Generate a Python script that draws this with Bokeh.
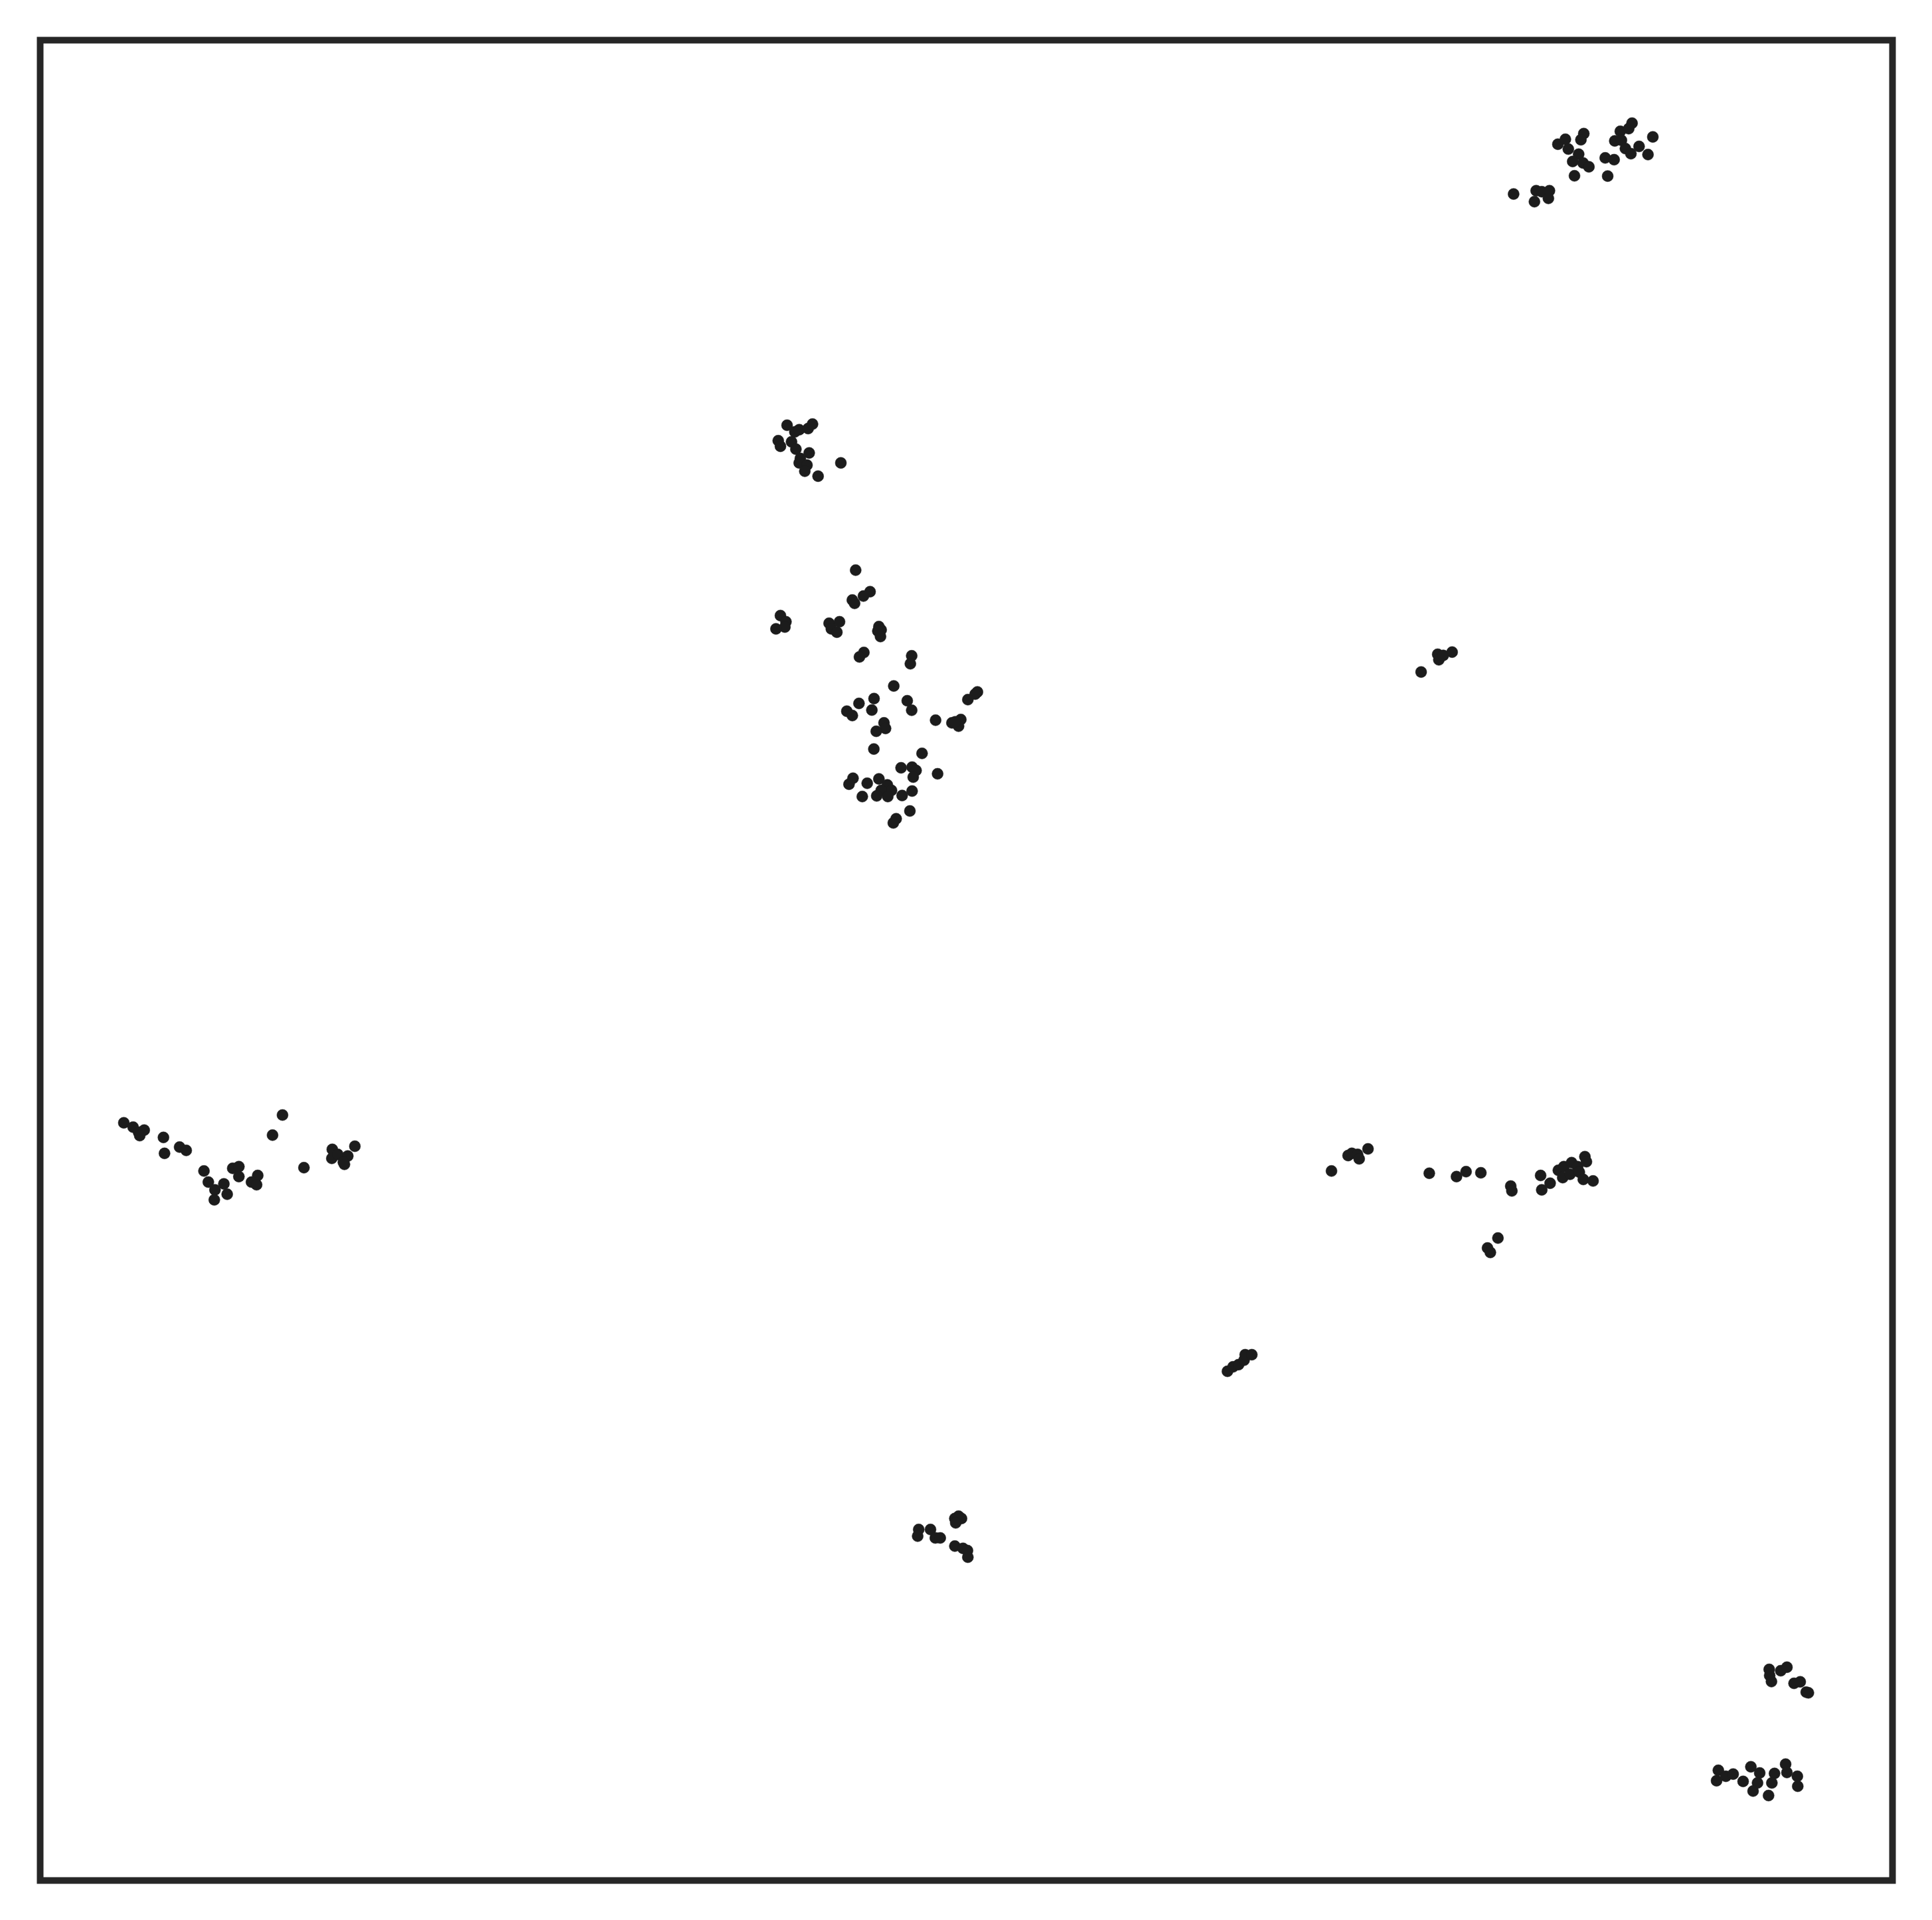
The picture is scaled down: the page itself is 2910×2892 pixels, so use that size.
from bokeh.plotting import figure
from bokeh.models import Range1d, ColumnDataSource
from bokeh.embed import file_html
from bokeh.resources import INLINE

# Embedding coordinates (arbitrary units), grouped by visible cluster
c1_x = [2279.3, 2313.3, 2321.7, 2333.3, 2331.7, 2310.7, 2346, 2357.3, 2361.7, 2385, 2380.7, 2377.3, 2368.3, 2384, 2392.7, 2371, 2417.3, 2430.7, 2421, 2431.7, 2440, 2441.7, 2452.7, 2457.7, 2447.7, 2456, 2468.3, 2481.7, 2489]
c1_y = [291.7, 286.7, 288.3, 286.7, 298.3, 303.3, 216.7, 209.3, 224, 200.7, 210, 231.7, 242.7, 245, 250.7, 264.3, 237.3, 240, 264.7, 211.7, 197.3, 210.7, 193.3, 185, 223.3, 231, 220, 232.3, 205.7]

c2_x = [1185, 1196.7, 1203.3, 1216.7, 1223.3, 1171.7, 1175, 1191.7, 1198.3, 1218.3, 1205, 1203.3, 1215, 1211.7, 1231.7, 1266]
c2_y = [640, 650, 646.7, 645, 638.3, 663.3, 671.7, 665, 676, 681.7, 690, 696.7, 700, 709.3, 716.7, 696.7]

c3_x = [1288.3, 1310, 1300, 1283.3, 1286.7, 1175, 1183.3, 1181.7, 1168.3, 1248.3, 1264, 1251.7, 1260, 1323.3, 1326.7, 1321.7, 1325.7, 1300.7, 1294, 1372.7, 1370.7, 1345.7, 1316, 1293.3, 1312.7, 1275, 1283.3, 1366, 1372.7, 1471.7, 1468.3, 1457.3, 1408.7, 1433.3, 1446.7, 1443.3, 1438.3, 1331, 1333.3, 1319.3, 1315.7, 1388.3, 1356.7, 1373.3, 1379.3, 1375, 1411.7, 1284.3, 1278.3, 1305.7, 1323.3, 1336, 1342.3, 1326.7, 1320, 1336.7, 1298.3, 1358.3, 1373.3, 1370, 1349.3, 1345]
c3_y = [858.3, 890.7, 897.3, 903.3, 908.3, 926.7, 936, 944, 946.7, 938.3, 936, 946.7, 951.7, 943.3, 948.3, 950, 958.3, 982.3, 989, 987.3, 999.3, 1032.7, 1051.7, 1059, 1069, 1070.7, 1077.3, 1055, 1069.3, 1041.7, 1045, 1053.3, 1084.3, 1088.3, 1083.3, 1093.3, 1086.7, 1088.3, 1096.7, 1101, 1127.7, 1134.3, 1156, 1155, 1160, 1170, 1165, 1171.7, 1180.7, 1179.3, 1172.7, 1181.7, 1190, 1190, 1198.3, 1199.3, 1199.3, 1197.7, 1191, 1221, 1232.7, 1239]

c4_x = [2140, 2165, 2166.7, 2173.3, 2186.7]
c4_y = [1011.7, 985, 993.3, 986.7, 981.7]

c5_x = [186, 200, 208.3, 216.7, 210, 245.7, 247.3, 270, 280, 306.7, 313.3, 336.7, 323.3, 341.7, 322.3, 350, 359.3, 359.3, 387.7, 378.3, 386, 425, 410, 457.3, 500, 499.3, 508.3, 523.3, 516.7, 518.3, 534]
c5_y = [1690.7, 1697.3, 1705, 1701.7, 1710, 1712.7, 1736.7, 1727.3, 1732.3, 1763.3, 1780, 1782.7, 1791.7, 1798.3, 1806.7, 1759.3, 1756.7, 1771.7, 1770, 1780, 1784, 1679, 1709.3, 1758.3, 1730.7, 1744.3, 1738.3, 1740.7, 1750, 1753.3, 1726]

c6_x = [2005, 2030, 2035.7, 2044.3, 2046.7, 2060, 2152.3, 2193.3, 2207.7, 2230, 2275, 2276.7, 2320, 2321.7, 2334.3, 2346.7, 2355, 2353.3, 2364.3, 2366.7, 2375.7, 2378.3, 2386.7, 2389, 2384.3, 2399, 2255.7, 2240, 2244.3]
c6_y = [1763.3, 1740, 1736.7, 1738.3, 1745, 1730, 1766.7, 1771.7, 1764.3, 1766, 1786, 1793.3, 1770, 1791.7, 1781.7, 1762.3, 1756.7, 1773.3, 1768.3, 1750.7, 1756.7, 1765, 1741.7, 1749.3, 1776, 1778.3, 1864.3, 1879.3, 1886]

c7_x = [1848.3, 1856.7, 1865, 1873.3, 1875, 1885]
c7_y = [2065, 2058.3, 2055, 2048.3, 2040, 2040]

c8_x = [1383.3, 1381.7, 1401, 1408.3, 1415.7, 1437.7, 1443.3, 1447.7, 1439, 1437.7, 1450, 1456.7, 1457.3]
c8_y = [2303.3, 2313.3, 2303.3, 2316, 2316, 2286.7, 2283.3, 2286.7, 2293.3, 2328.3, 2331.7, 2335, 2345]

c9_x = [2664.3, 2665, 2667.7, 2681.7, 2691, 2701.7, 2711, 2720, 2723.3, 2587.7, 2585, 2599, 2610, 2625, 2636.7, 2650, 2646.7, 2640, 2672.3, 2668.3, 2663.3, 2689, 2691, 2706.7, 2707.3]
c9_y = [2514, 2523.3, 2532.3, 2516, 2510.7, 2535, 2532.7, 2548.3, 2549.3, 2666, 2681.7, 2675, 2671.7, 2682.7, 2660.7, 2670, 2685, 2697.3, 2670.7, 2685, 2704, 2656.7, 2669.3, 2675, 2690]

xs = c1_x + c2_x + c3_x + c4_x + c5_x + c6_x + c7_x + c8_x + c9_x
ys = c1_y + c2_y + c3_y + c4_y + c5_y + c6_y + c7_y + c8_y + c9_y

src = ColumnDataSource(dict(x=xs, y=ys))

p = figure(width=2910, height=2892, output_backend="svg", toolbar_location=None,
           x_range=Range1d(60, 2850), y_range=Range1d(2832, 60),
           x_axis_location=None, y_axis_location=None,
           min_border_left=60, min_border_right=60, min_border_top=60, min_border_bottom=60)
p.grid.visible = False
p.outline_line_color = "#262626"
p.outline_line_width = 10
p.outline_line_join = "miter"
p.background_fill_color = "white"
p.border_fill_color = "white"

p.scatter("x", "y", source=src, size=17, fill_color="#1c1c1c", line_color="#1c1c1c", line_width=0.5)

open("out.html", "w").write(file_html(p, INLINE))
